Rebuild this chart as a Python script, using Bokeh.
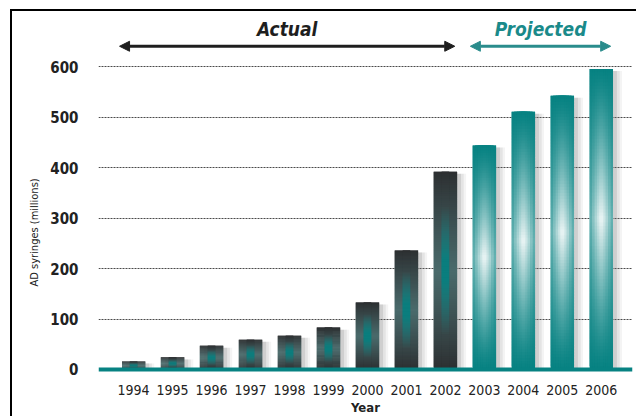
import math
from bokeh.plotting import figure
from bokeh.models import Range1d, FixedTicker, ColumnDataSource, Label, Arrow, NormalHead, Span, Title
from bokeh.embed import file_html
from bokeh.resources import INLINE

# ---------------- data ----------------
years = [1994, 1995, 1996, 1997, 1998, 1999, 2000, 2001, 2002, 2003, 2004, 2005, 2006]
values = [16, 24, 47, 59, 67, 83, 133, 236, 392, 444, 511, 543, 596]
kinds = ["Actual"] * 9 + ["Projected"] * 4
y_ticks = [0, 100, 200, 300, 400, 500, 600]
header_labels = ["Actual", "Projected"]
y_title = "AD syringes (millions)"
x_title = "Year"

FONT = "DejaVu Sans Condensed, Roboto, sans-serif"
TEAL = "#078282"
DARK = "#2c2e30"
GRAYTEAL = "#4a6b6c"
TEAL_STRIPE = "#0a7e7e"
WHITE = "#f2f8f8"


def hx(c):
    c = c.lstrip("#")
    return tuple(int(c[i:i + 2], 16) for i in (0, 2, 4))


def mix(a, b, t):
    t = max(0.0, min(1.0, t))
    A, B = hx(a), hx(b)
    return "#%02x%02x%02x" % tuple(int(round(A[i] + (B[i] - A[i]) * t)) for i in range(3))


BAR_W = 0.6
N = 90

# gradient slices built from the data
sl = dict(left=[], right=[], bottom=[], top=[], color=[])
for x, v, kind in zip(years, values, kinds):
    if kind == "Actual":
        layers = [(1.0, None), (0.32, "stripe")]
    else:
        layers = [(1.0, 0.40), (0.78, 0.56), (0.56, 0.72), (0.34, 0.86), (0.16, 0.96)]
    for w, s in layers:
        for k in range(N):
            t = (k + 0.5) / N
            f = 1 - abs(2 * t - 1)
            if kind == "Actual":
                base = mix(DARK, GRAYTEAL, f ** 0.9)
                if s == "stripe":
                    col = mix(base, TEAL_STRIPE, ((f - 0.35) / 0.55) ** 1.0 if f > 0.35 else 0)
                else:
                    col = base
            else:
                col = mix(TEAL, WHITE, s * f ** 1.25)
            sl["left"].append(x - BAR_W * w / 2)
            sl["right"].append(x + BAR_W * w / 2)
            sl["bottom"].append(v * k / N)
            sl["top"].append(min(v, v * (k + 2.0) / N))
            sl["color"].append(col)

p = figure(width=626, height=407, output_backend="svg", toolbar_location=None,
           x_range=Range1d(1993.1, 2006.8), y_range=Range1d(-6, 700),
           min_border_left=86, min_border_right=6, min_border_top=5, min_border_bottom=46,
           styles={"border-left": "2px solid black", "border-top": "2px solid black",
                   "margin-left": "10px", "margin-top": "9px"})
p.outline_line_color = None
p.background_fill_color = "white"
p.border_fill_color = "white"

# grid
p.xgrid.grid_line_color = None
p.ygrid.ticker = FixedTicker(ticks=y_ticks[1:])
p.ygrid.grid_line_color = "#4a4a4a"
p.ygrid.grid_line_dash = "2 1"
p.ygrid.grid_line_width = 1

# axes
p.yaxis.ticker = FixedTicker(ticks=y_ticks)
p.xaxis.ticker = FixedTicker(ticks=years)
for ax in (p.xaxis[0], p.yaxis[0]):
    ax.axis_line_color = None
    ax.major_tick_line_color = None
    ax.minor_tick_line_color = None
    ax.major_label_text_font = FONT
    ax.major_label_text_color = "#222222"
p.yaxis.major_label_text_font_size = "15px"
p.yaxis.major_label_text_font_style = "bold"
p.yaxis.major_label_standoff = 14
p.xaxis.major_label_text_font_size = "14px"
p.xaxis.major_label_standoff = 6
p.xaxis.axis_label = x_title
p.xaxis.axis_label_text_font = FONT
p.xaxis.axis_label_text_font_size = "13px"
p.xaxis.axis_label_text_font_style = "bold"
p.xaxis.axis_label_text_color = "#222222"
p.xaxis.axis_label_standoff = 2

# y-axis title as a side title
p.add_layout(Title(text=y_title, align="left", offset=86, standoff=14,
                   text_font=FONT, text_font_size="11px", text_font_style="normal",
                   text_color="#222222"), "left")

# soft shadows
for dx, extra, alpha in ((0.1, 0.0, 0.18), (0.14, 0.06, 0.12), (0.18, 0.1, 0.08)):
    sh = ColumnDataSource(dict(x=[y + dx for y in years], top=[max(0, v - 4) for v in values]))
    p.vbar(x="x", top="top", bottom=0, width=BAR_W + extra, source=sh, fill_color="#707070",
           fill_alpha=alpha, line_color=None)

# bars
p.quad(left="left", right="right", bottom="bottom", top="top", source=ColumnDataSource(sl),
       fill_color="color", line_color=None)

# baseline
p.add_layout(Span(location=0, dimension="width", line_color=TEAL, line_width=4))

# header arrows and labels
act_years = [y for y, k in zip(years, kinds) if k == "Actual"]
pro_years = [y for y, k in zip(years, kinds) if k == "Projected"]
arrow_y = 641
for ys, col, txt, tcol in ((act_years, "#1e1e1e", header_labels[0], "#1e1e1e"),
                            (pro_years, "#2a8c8c", header_labels[1], "#1a8a8a")):
    xs, xe = ys[0] - 0.36, ys[-1] + 0.24
    p.add_layout(Arrow(x_start=xs, x_end=xe, y_start=arrow_y, y_end=arrow_y,
                       line_color=col, line_width=3,
                       start=NormalHead(size=10, fill_color=col, line_color=col),
                       end=NormalHead(size=10, fill_color=col, line_color=col)))
    p.add_layout(Label(x=(xs + xe) / 2, y=676, text=txt, text_font=FONT,
                       text_font_style="bold italic", text_font_size="19px",
                       text_color=tcol, text_align="center", text_baseline="middle"))

open("out.html", "w").write(file_html(p, INLINE))
